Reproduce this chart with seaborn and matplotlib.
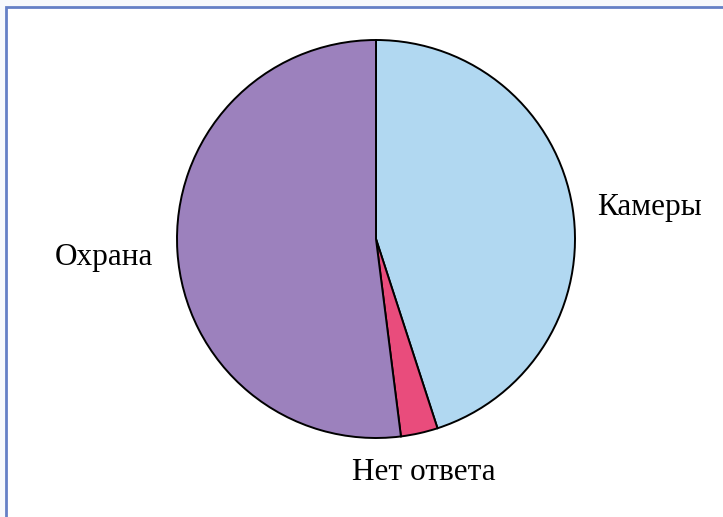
import matplotlib
matplotlib.use("Agg")
import matplotlib.pyplot as plt
import matplotlib.patches as mpatches
import seaborn as sns

# Data (shares, %)
labels = ["Камеры", "Нет ответа", "Охрана"]
values = [45, 3, 52]
colors = ["#b1d8f1", "#e94c7c", "#9c81bd"]

sns.set_theme(style="white")
plt.rcParams['font.family'] = ['Liberation Serif', 'DejaVu Serif']

fig = plt.figure(figsize=(7.23, 5.17), dpi=100)
fig.patch.set_facecolor("#f7f9fc")

# framed white area (border at the top and left edges)
frame = mpatches.Rectangle((6.5 / 723, -0.01), 1.0, (517 - 6.5) / 517 + 0.01,
                           transform=fig.transFigure, facecolor="white",
                           edgecolor="#6580c6", linewidth=2.0, zorder=-5)
fig.patches.append(frame)

ax = fig.add_axes([176 / 723, 78 / 517, 400 / 723, 400 / 517])
ax.set_facecolor("none")
ax.set_zorder(2)

wedges, texts = ax.pie(
    values,
    labels=labels,
    colors=sns.color_palette(colors),
    startangle=90,
    counterclock=False,
    radius=0.995,
    labeldistance=1.1,
    wedgeprops=dict(edgecolor="black", linewidth=1.4),
    textprops=dict(fontsize=22.5, color="black"))

# label positions as in the reference
texts[0].set_position((1.105, 0.16))
texts[0].set_verticalalignment("center")
texts[1].set_position((0.24, -1.165))
texts[1].set_horizontalalignment("center")
texts[1].set_verticalalignment("center")
texts[2].set_position((-1.115, -0.09))
texts[2].set_verticalalignment("center")

ax.set_xlim(-1, 1)
ax.set_ylim(-1, 1)
ax.axis("off")

plt.savefig("out.png", dpi=100, facecolor=fig.get_facecolor())
